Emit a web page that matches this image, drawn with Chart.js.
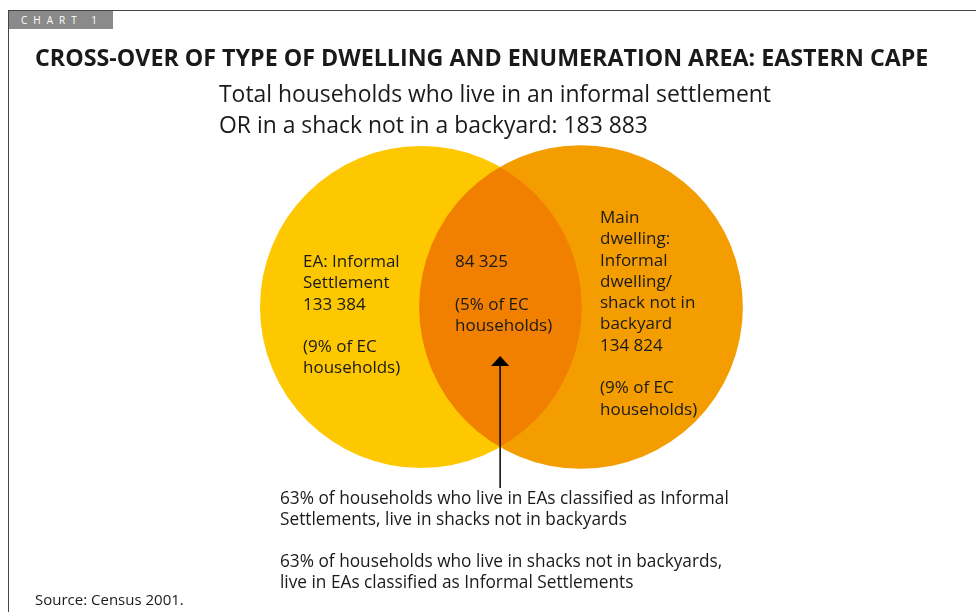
<!DOCTYPE html>
<html><head><meta charset="utf-8">
<script src="https://cdn.jsdelivr.net/npm/chart.js@4/dist/chart.umd.min.js"></script>
<style>
html,body{margin:0;padding:0;background:#fff;}
#wrap{position:relative;width:976px;height:612px;overflow:hidden;font-family:"Open Sans",sans-serif;color:#1a1a1a;}
canvas{position:absolute;left:0;top:0;}
.t{position:absolute;white-space:nowrap;}
#frameL{position:absolute;left:8px;top:10px;width:1px;height:602px;background:#444;}
#frameT{position:absolute;left:8px;top:10px;width:968px;height:1px;background:#444;}
#tag{position:absolute;left:9px;top:11px;width:104px;height:18px;background:#8a8a8a;color:#fff;font-size:10px;letter-spacing:6px;line-height:18px;padding-left:12px;box-sizing:border-box;}
#title{left:35px;top:41px;font-size:23.25px;font-weight:bold;}
.sub{font-size:22.9px;left:219px;}
.lbl{font-size:17px;line-height:21.3px;}
.note{font-size:17.25px;left:280px;line-height:21px;}
</style></head>
<body><div id="wrap">
<canvas id="c" width="976" height="612"></canvas>
<div id="frameL"></div><div id="frameT"></div>
<div id="tag">CHART 1</div>
<div class="t" id="title">CROSS-OVER OF TYPE OF DWELLING AND ENUMERATION AREA: EASTERN CAPE</div>
<div class="t sub" style="top:78px">Total households who live in an informal settlement</div>
<div class="t sub" style="top:109px">OR in a shack not in a backyard: 183 883</div>
<div class="t lbl" style="left:303px;top:250px">EA: Informal<br>Settlement<br>133 384<br><br>(9% of EC<br>households)</div>
<div class="t lbl" style="left:455px;top:250px">84 325<br><br>(5% of EC<br>households)</div>
<div class="t lbl" style="left:600px;top:206px">Main<br>dwelling:<br>Informal<br>dwelling/<br>shack not in<br>backyard<br>134 824<br><br>(9% of EC<br>households)</div>
<div class="t note" style="top:487px">63% of households who live in EAs classified as Informal<br>Settlements, live in shacks not in backyards<br><br>63% of households who live in shacks not in backyards,<br>live in EAs classified as Informal Settlements</div>
<div class="t" style="left:35px;top:589px;font-size:15px">Source: Census 2001.</div>
</div>
<script>
const setNames = ["EA: Informal Settlement", "Main dwelling: Informal dwelling/shack not in backyard"];
const setValues = [133384, 134824];
const overlapValue = 84325;
const totalValue = 183883;

// layout (pixel coordinates of circle centres)
const centreX = [421, 581];
const centreY = 307;
const baseRadius = 161;
const colours = ["#FDC800", "#F39D00"];
const overlapColour = "#F17F00";

const radii = setValues.map(v => baseRadius * Math.sqrt(v / setValues[0]));

const vennPlugin = {
  id: 'venn',
  afterDatasetsDraw(chart) {
    const ctx = chart.ctx;
    const a = chart.getDatasetMeta(0).data[0];
    const b = chart.getDatasetMeta(1).data[0];
    const ra = a.options.radius, rb = b.options.radius;
    ctx.save();
    ctx.beginPath();
    ctx.arc(a.x, a.y, ra, 0, Math.PI * 2);
    ctx.clip();
    ctx.beginPath();
    ctx.arc(b.x, b.y, rb, 0, Math.PI * 2);
    ctx.fillStyle = overlapColour;
    ctx.fill();
    ctx.restore();
    // arrow pointing into intersection
    const d = b.x - a.x;
    const xi = (d * d - rb * rb + ra * ra) / (2 * d);
    const ax = a.x + xi;
    ctx.save();
    ctx.strokeStyle = "#000";
    ctx.fillStyle = "#000";
    ctx.lineWidth = 1.5;
    ctx.beginPath();
    ctx.moveTo(ax, 488);
    ctx.lineTo(ax, 364);
    ctx.stroke();
    ctx.beginPath();
    ctx.moveTo(ax, 356);
    ctx.lineTo(ax - 9, 366);
    ctx.lineTo(ax + 9, 366);
    ctx.closePath();
    ctx.fill();
    ctx.restore();
  }
};

new Chart(document.getElementById('c'), {
  type: 'bubble',
  data: {
    datasets: setNames.map((n, i) => ({
      label: n,
      data: [{ x: centreX[i], y: centreY, r: radii[i] }],
      backgroundColor: colours[i],
      borderWidth: 0,
      hoverRadius: 0,
      clip: false
    }))
  },
  options: {
    responsive: false,
    animation: false,
    events: [],
    layout: { padding: 0, autoPadding: false },
    plugins: { legend: { display: false }, tooltip: { enabled: false } },
    scales: {
      x: { type: 'linear', min: 0, max: 976, display: false },
      y: { type: 'linear', min: 0, max: 612, reverse: true, display: false }
    }
  },
  plugins: [vennPlugin]
});
</script>
</body></html>
